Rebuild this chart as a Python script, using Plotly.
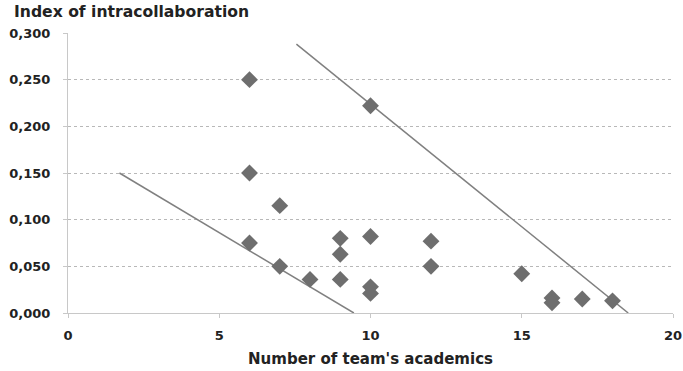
import plotly.graph_objects as go

# Data points: number of team's academics vs index of intracollaboration
academics = [6, 6, 6, 7, 7, 8, 9, 9, 9, 10, 10, 10, 10, 12, 12, 15, 16, 16, 17, 18]
index_vals = [0.250, 0.150, 0.075, 0.115, 0.050, 0.036, 0.080, 0.063, 0.036,
              0.222, 0.082, 0.028, 0.021, 0.077, 0.050, 0.042, 0.016, 0.011, 0.015, 0.013]

# Boundary lines (drawn lines in the chart)
lower_line_x = [1.7, 9.45]
lower_line_y = [0.150, 0.000]
upper_line_x = [7.55, 18.52]
upper_line_y = [0.288, 0.000]

x_ticks = [0, 5, 10, 15, 20]
y_ticks = [0.0, 0.05, 0.10, 0.15, 0.20, 0.25, 0.30]

fig = go.Figure()
fig.add_trace(go.Scatter(x=lower_line_x, y=lower_line_y, mode="lines",
                         line=dict(color="#808080", width=1.5), showlegend=False, hoverinfo="skip"))
fig.add_trace(go.Scatter(x=upper_line_x, y=upper_line_y, mode="lines",
                         line=dict(color="#808080", width=1.5), showlegend=False, hoverinfo="skip"))
fig.add_trace(go.Scatter(x=academics, y=index_vals, mode="markers",
                         marker=dict(symbol="diamond", size=13, color="#6e6e6e"),
                         showlegend=False))

font_family = "DejaVu Sans"
fig.update_layout(
    width=683, height=371,
    margin=dict(l=68, r=10, t=33, b=58),
    paper_bgcolor="white", plot_bgcolor="white",
    separators=",.",
    font=dict(family=font_family, size=13, color="#222222"),
    xaxis=dict(range=[0, 20], tickvals=x_ticks, showgrid=False, zeroline=False,
               automargin=False,
               showline=True, linecolor="#c8c8c8", linewidth=1,
               ticks="outside", ticklen=4, tickcolor="#c8c8c8", ticklabelstandoff=6,
               tickfont=dict(family=font_family, size=13, color="#222222", weight="bold"),
               title=dict(text="<b>Number of team's academics</b>", standoff=11,
                          font=dict(family=font_family, size=15, color="#222222"))),
    yaxis=dict(range=[0, 0.3], tickvals=y_ticks, tickformat=".3f",
               automargin=False,
               showgrid=True, gridcolor="#b8b8b8", griddash="dot", gridwidth=1,
               zeroline=False, showline=True, linecolor="#c8c8c8", linewidth=1,
               ticks="outside", ticklen=4, tickcolor="#c8c8c8", ticklabelstandoff=10,
               tickfont=dict(family=font_family, size=13, color="#222222", weight="bold")),
    annotations=[dict(text="<b>Index of intracollaboration</b>", xref="paper", yref="paper",
                      x=-0.093, y=1.075, xanchor="left", yanchor="middle", showarrow=False,
                      font=dict(family=font_family, size=15.6, color="#222222"))],
)

fig.write_html("out.html", config={"displayModeBar": False},
               post_script="document.body.style.margin='0';")
